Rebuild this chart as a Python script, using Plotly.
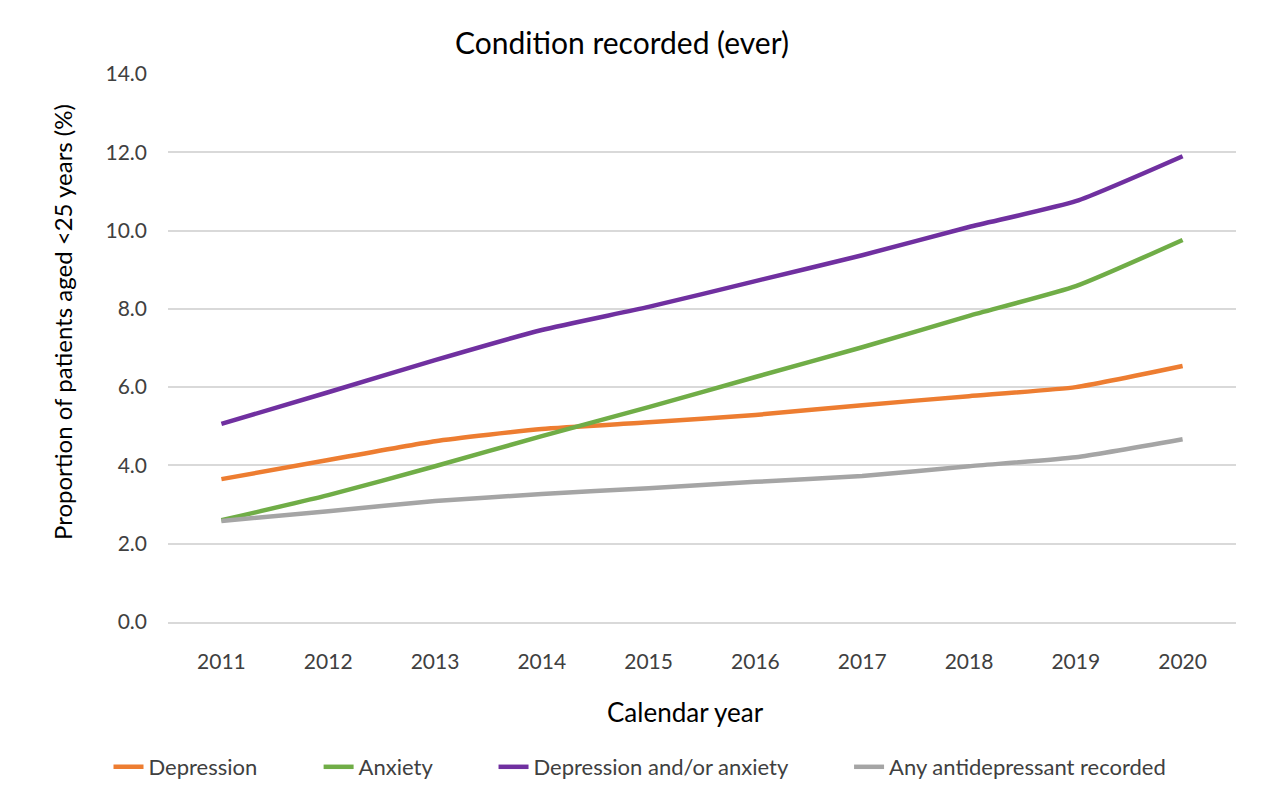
import plotly.graph_objects as go

# data
years = ["2011", "2012", "2013", "2014", "2015", "2016", "2017", "2018", "2019", "2020"]
depression = [3.65, 4.14, 4.62, 4.93, 5.10, 5.29, 5.54, 5.77, 6.00, 6.54]
anxiety = [2.60, 3.24, 3.98, 4.75, 5.49, 6.26, 7.02, 7.82, 8.58, 9.76]
dep_or_anx = [5.06, 5.87, 6.69, 7.46, 8.05, 8.71, 9.37, 10.09, 10.75, 11.90]
antidepressant = [2.58, 2.83, 3.09, 3.27, 3.42, 3.58, 3.73, 3.98, 4.21, 4.67]

y_ticks = [0, 2, 4, 6, 8, 10, 12, 14]

FONT = "Lato, 'Open Sans', sans-serif"
PAD = "\u00a0" * 10  # extra room between legend entries

# page body adds an 8px margin, so the figure is drawn 8px smaller
W, H = 1256, 791
OFF = 8

series = [
    ("Depression", depression, "#ED7D31"),
    ("Anxiety", anxiety, "#70AD47"),
    ("Depression and/or anxiety", dep_or_anx, "#7030A0"),
    ("Any antidepressant recorded", antidepressant, "#A5A5A5"),
]

fig = go.Figure()
for i, (name, vals, color) in enumerate(series):
    label = name if i == len(series) - 1 else name + PAD
    fig.add_trace(
        go.Scatter(
            x=years,
            y=vals,
            name=label,
            mode="lines",
            line=dict(color=color, width=4.5, shape="spline", smoothing=0.5),
        )
    )

fig.update_layout(
    width=W,
    height=H,
    paper_bgcolor="white",
    plot_bgcolor="white",
    font=dict(family=FONT, color="#595959", size=21),
    margin=dict(l=160, r=28, t=66, b=177),
    title=dict(
        text="Condition recorded (ever)",
        x=(622 - OFF) / W,
        xref="container",
        xanchor="center",
        y=1 - (43 - OFF) / H,
        yref="container",
        yanchor="middle",
        font=dict(family=FONT, size=30, color="black"),
    ),
    showlegend=True,
    legend=dict(
        orientation="h",
        xref="container",
        x=(640 - OFF) / W,
        xanchor="center",
        yref="container",
        y=1 - (767 - OFF) / H,
        yanchor="middle",
        font=dict(family=FONT, size=22, color="#404040"),
        tracegroupgap=0,
    ),
)

fig.update_xaxes(
    type="category",
    range=[-0.5, 9.5],
    showgrid=False,
    showline=True,
    linecolor="#d9d9d9",
    linewidth=1.5,
    ticks="",
    ticklabelstandoff=20,
    tickfont=dict(size=21, color="#404040"),
    fixedrange=True,
)
fig.update_yaxes(
    range=[0, 14],
    tickvals=y_ticks,
    tickformat=".1f",
    showgrid=True,
    gridcolor="#d9d9d9",
    gridwidth=1.5,
    zeroline=False,
    showline=False,
    ticks="",
    ticklabelstandoff=20,
    tickfont=dict(size=21, color="#404040"),
)

fig.add_annotation(
    text="Proportion of patients aged <25 years (%)",
    xref="paper",
    yref="paper",
    x=(62 - 168) / 1068,
    y=(622 - 322) / 548,
    textangle=-90,
    showarrow=False,
    font=dict(family=FONT, size=24, color="black"),
    xanchor="center",
    yanchor="middle",
)
fig.add_annotation(
    text="Calendar year",
    xref="paper",
    yref="paper",
    x=(685 - 168) / 1068,
    y=(622 - 712) / 548,
    showarrow=False,
    font=dict(family=FONT, size=26, color="black"),
    xanchor="center",
    yanchor="middle",
)

fig.write_html("out.html")
